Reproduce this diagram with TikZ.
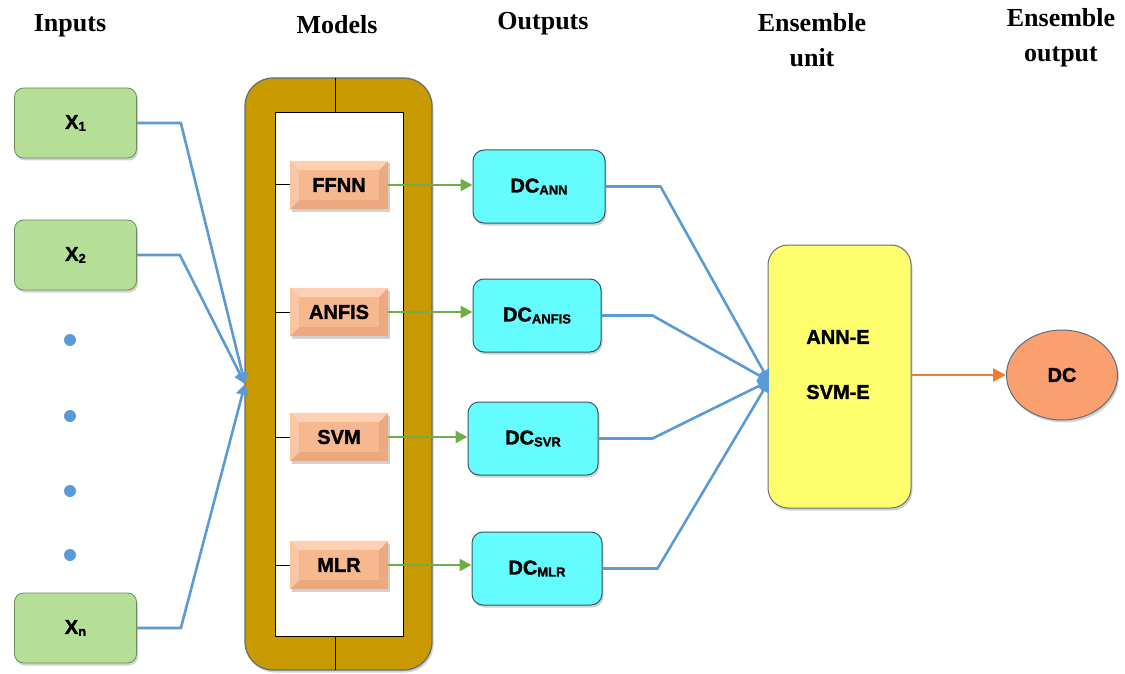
\documentclass[tikz,border=0pt]{standalone}
\usepackage{fontspec}
\setmainfont{Liberation Serif}
\setsansfont{Liberation Sans}[BoldFeatures={FakeBold=1.6}]
\usetikzlibrary{arrows.meta,shadows,shapes.geometric,calc}
\definecolor{inblue}{RGB}{91,155,213}
\definecolor{ingreen}{RGB}{112,173,71}
\definecolor{inorange}{RGB}{237,125,49}
\definecolor{boxgreen}{RGB}{181,222,150}
\definecolor{boxgreenb}{RGB}{110,140,90}
\definecolor{gold}{RGB}{200,154,0}
\definecolor{goldb}{RGB}{90,110,130}
\definecolor{peach}{RGB}{246,184,142}
\definecolor{peachd}{RGB}{236,168,126}
\definecolor{peachl}{RGB}{252,208,176}
\definecolor{cyanbox}{RGB}{100,252,255}
\definecolor{cyanb}{RGB}{60,85,100}
\definecolor{yelbox}{RGB}{255,255,110}
\definecolor{yelb}{RGB}{100,110,120}
\definecolor{ovalc}{RGB}{250,160,110}
\newcommand{\lsub}[1]{\raisebox{-2pt}{\fontsize{13}{14}\selectfont #1}}
\begin{document}
\begin{tikzpicture}[x=1pt,y=-1pt,
  hdr/.style={font=\bfseries\fontsize{26}{30}\selectfont, anchor=base, align=center},
  btxt/.style={font=\sffamily\bfseries\fontsize{20}{24}\selectfont},
  shad/.style={drop shadow={opacity=0.35, shadow xshift=1.5pt, shadow yshift=-2.5pt}},
  inbox/.style={btxt, draw=boxgreenb, line width=0.8pt, fill=boxgreen, rounded corners=9pt,
     minimum width=122pt, minimum height=70pt, shad},
  modbox/.style={btxt, draw=none, fill=peach, minimum width=98pt, minimum height=48pt, shad},
  dcbox/.style={btxt, draw=cyanb, line width=1pt, fill=cyanbox, rounded corners=11pt,
     minimum height=73pt, shad},
  bline/.style={draw=inblue, line width=2.6pt},
  barrow/.style={bline, -{Triangle[width=12pt,length=11pt]}},
  garrow/.style={draw=ingreen, line width=2.6pt, -{Triangle[width=12pt,length=12pt]}},
  oarrow/.style={draw=inorange, line width=2.6pt, -{Triangle[width=13pt,length=13pt]}},
  dotc/.style={circle, fill=inblue, inner sep=0pt, minimum size=12pt}
]
\useasboundingbox (0,0) rectangle (1125,674);

% headers
\node[hdr] (hin) at (70,32) {Inputs};
\node[hdr] (hmod) at (337,34) {Models};
\node[hdr] (hout) at (543,30) {Outputs};
\node[hdr] (hens1) at (812,32) {Ensemble};
\node[hdr] (hens2) at (812,67) {unit};
\node[hdr] (heo1) at (1061,27) {Ensemble};
\node[hdr] (heo2) at (1061,62) {output};

% inputs
\node[inbox] (x1) at (75.5,123) {X\lsub{1}};
\node[inbox] (x2) at (75.5,255) {X\lsub{2}};
\node[inbox] (xn) at (75.5,628) {X\lsub{n}};
\node[dotc] (d1) at (70,340) {};
\node[dotc] (d2) at (70,416) {};
\node[dotc] (d3) at (70,491) {};
\node[dotc] (d4) at (70,555) {};

% models frame
\draw[draw=goldb, line width=1.2pt, fill=gold, rounded corners=28pt,
  drop shadow={opacity=0.35, shadow xshift=1.5pt, shadow yshift=-2.5pt}]
  (245,78) rectangle (432,670);
\draw[fill=white, draw=black, line width=1pt] (275,113) rectangle (403,636);
\coordinate (ftop) at (335,78);
\coordinate (ftopi) at (335,113);
\coordinate (fbot) at (335,670);
\coordinate (fboti) at (335,636);
\draw[line width=1pt] (ftop) -- (ftopi);
\draw[line width=1pt] (fboti) -- (fbot);

% model boxes
\foreach \nm/\lab/\yy in {ffnn/FFNN/185, anfis/ANFIS/312, svm/SVM/437, mlr/MLR/565}{
  \node[modbox] (\nm) at (339,\yy) {};
  \fill[peachd] (\nm.south west) -- ++(9,-9) -- ($(\nm.south east)+(-9,-9)$) -- (\nm.south east) -- cycle;
  \fill[peachd] (\nm.south east) -- ++(-9,-9) -- ($(\nm.north east)+(-9,9)$) -- (\nm.north east) -- cycle;
  \fill[peachl] (\nm.north west) -- ++(9,9) -- ($(\nm.north east)+(-9,9)$) -- (\nm.north east) -- cycle;
  \fill[peachl!60!peach] (\nm.north west) -- ++(9,9) -- ($(\nm.south west)+(9,-9)$) -- (\nm.south west) -- cycle;
  \node[btxt] (\nm t) at (\nm) {\lab};
  \coordinate (\nm l) at (275,\yy);
  \draw[line width=1pt] (\nm l) -- (\nm.west);
}

% DC boxes
\node[dcbox, minimum width=132pt] (dcann) at (539,186.5) {DC\lsub{ANN}};
\node[dcbox, minimum width=128pt] (dcanfis) at (537,315.5) {DC\lsub{ANFIS}};
\node[dcbox, minimum width=130pt] (dcsvr) at (533,438.5) {DC\lsub{SVR}};
\node[dcbox, minimum width=130pt] (dcmlr) at (537,568.5) {DC\lsub{MLR}};

% green arrows
\draw[garrow] (ffnn.east) -- (ffnn.east -| dcann.west);
\draw[garrow] (anfis.east) -- (anfis.east -| dcanfis.west);
\draw[garrow] (svm.east) -- (svm.east -| dcsvr.west);
\draw[garrow] (mlr.east) -- (mlr.east -| dcmlr.west);

% input connectors
\coordinate (inhub) at (245,384);
\draw[barrow] (x1.east) -- ++(44,0) -- (inhub);
\draw[barrow] (x2.east) -- ++(43,0) -- (inhub);
\draw[barrow] (xn.east) -- ++(44,0) -- (inhub);

% ensemble unit
\node[draw=yelb, line width=1pt, fill=yelbox, rounded corners=20pt,
  minimum width=143pt, minimum height=263pt, shad] (ens) at (839.5,376.5) {};
\node[btxt] (anne) at (838,337) {ANN-E};
\node[btxt] (svme) at (838,392) {SVM-E};

% output connectors
\coordinate (outhub) at (769,381);
\draw[barrow] (dcann.east) -- ++(55,0) -- (outhub);
\draw[barrow] (dcanfis.east) -- ++(51,0) -- (outhub);
\draw[barrow] (dcsvr.east) -- ++(54,0) -- (outhub);
\draw[barrow] (dcmlr.east) -- ++(55,0) -- (outhub);

% ensemble output
\node[ellipse, draw=goldb, line width=1pt, fill=ovalc, minimum width=111pt,
  minimum height=90pt, btxt, shad] (dc) at (1062,375) {DC};
\draw[oarrow] (ens.east |- dc.west) -- (dc.west);
\end{tikzpicture}
\end{document}
